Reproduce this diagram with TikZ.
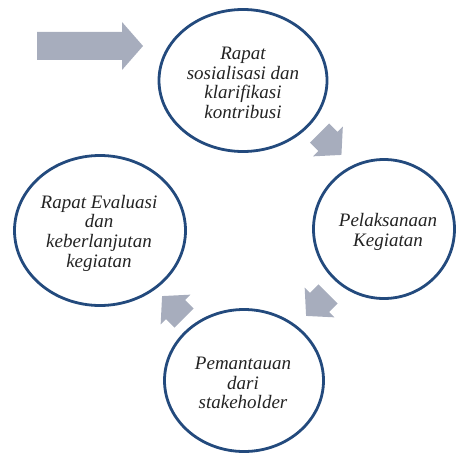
\documentclass[tikz,border=0pt]{standalone}
\usepackage{fontspec}
\setmainfont{Liberation Serif}
\usetikzlibrary{shapes.geometric}
\definecolor{ringblue}{RGB}{35,74,125}
\definecolor{arrowgray}{RGB}{167,173,189}
\definecolor{textdark}{RGB}{35,35,35}
\tikzset{
  ring/.style={draw=ringblue, line width=2.8pt, fill=white},
  lbl/.style={align=center, inner sep=0pt, text=textdark,
    font=\fontsize{19}{19.7}\selectfont\itshape},
  blockarr/.style={fill=arrowgray, draw=none},
}
\newcommand{\cycarrow}[3]{%
  \begin{scope}[shift={(#1,#2)}, rotate=#3]
    \fill[blockarr] (0,13.5) -- (12,13.5) -- (12,21) -- (31,0) -- (12,-21) -- (12,-13.5) -- (0,-13.5) -- cycle;
  \end{scope}}
\begin{document}
\begin{tikzpicture}[x=1pt,y=-1pt]
\useasboundingbox (0,0) rectangle (457,457);
% big entry arrow
\fill[blockarr] (37,32) -- (122,32) -- (122,22) -- (143,46) -- (122,70) -- (122,60) -- (37,60) -- cycle;
% rings
\draw[ring] (243,80.5) ellipse [x radius=84, y radius=71];
\draw[ring] (100,230.5) ellipse [x radius=85.5, y radius=75];
\draw[ring] (384,229) ellipse [x radius=70.5, y radius=69.5];
\draw[ring] (244,380.5) ellipse [x radius=79.5, y radius=71];
% cycle arrows
\cycarrow{319.5}{133}{-45}
\cycarrow{328}{294}{-135}
\cycarrow{184}{318}{135}
% labels
\node[lbl] (t1) at (243,83) {Rapat\\sosialisasi dan\\klarifikasi\\kontribusi};
\node[lbl] (t2) at (388,232) {Pelaksanaan\\Kegiatan};
\node[lbl] (t3) at (243,383) {Pemantauan\\dari\\stakeholder};
\node[lbl] (t4) at (99,233) {Rapat Evaluasi\\dan\\keberlanjutan\\kegiatan};
\end{tikzpicture}
\end{document}
